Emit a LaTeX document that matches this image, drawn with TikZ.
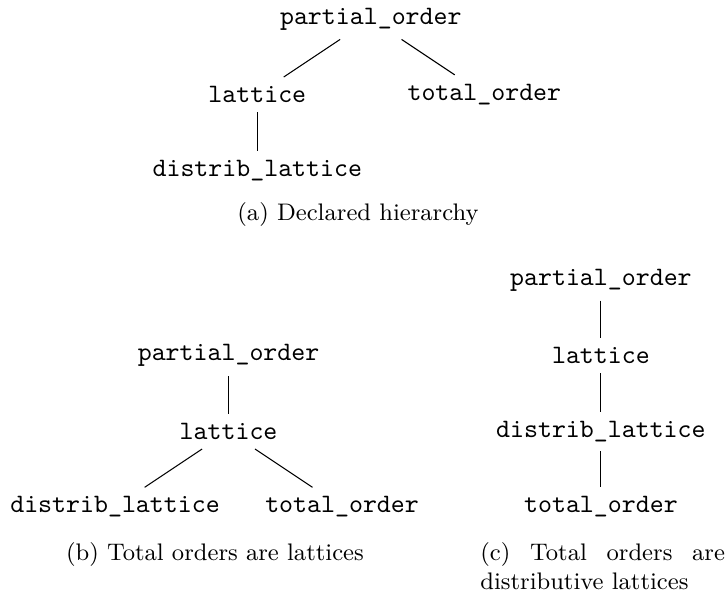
\documentclass[tikz,border=0pt]{standalone}
\tikzset{
  cls/.style={font=\ttfamily},
  subcap/.style={font=\small, inner sep=0pt}
}
\begin{document}
\begin{tikzpicture}
\useasboundingbox (0,0) rectangle (9.606,-7.875);
% declared hierarchy
\node[cls] (pa) at (4.90,-0.25) {partial\_order};
\node[cls] (la) at (3.40,-1.25) {lattice};
\node[cls] (ta) at (6.40,-1.25) {total\_order};
\node[cls] (da) at (3.40,-2.25) {distrib\_lattice};
\draw (pa) -- (la);
\draw (pa) -- (ta);
\draw (la) -- (da);
\node[subcap,anchor=base] (capa) at (4.73,-2.91) {(a)\ Declared hierarchy};

% total orders are lattices
\node[cls] (pb) at (3.02,-4.70) {partial\_order};
\node[cls] (lb) at (3.02,-5.70) {lattice};
\node[cls] (db) at (1.52,-6.70) {distrib\_lattice};
\node[cls] (tb) at (4.52,-6.70) {total\_order};
\draw (pb) -- (lb);
\draw (lb) -- (db);
\draw (lb) -- (tb);
\node[subcap,anchor=base] (capb) at (2.84,-7.40) {(b)\ Total orders are lattices};

% total orders are distributive lattices
\node[cls] (pc) at (7.94,-3.70) {partial\_order};
\node[cls] (lc) at (7.94,-4.70) {lattice};
\node[cls] (dc) at (7.94,-5.70) {distrib\_lattice};
\node[cls] (tc) at (7.94,-6.70) {total\_order};
\draw (pc) -- (lc);
\draw (lc) -- (dc);
\draw (dc) -- (tc);
\node[subcap,anchor=base west,text width=92pt,align=justify] (capc) at (6.34,-7.40)
  {(c)\ Total orders are \mbox{distributive} lattices};
\end{tikzpicture}
\end{document}
